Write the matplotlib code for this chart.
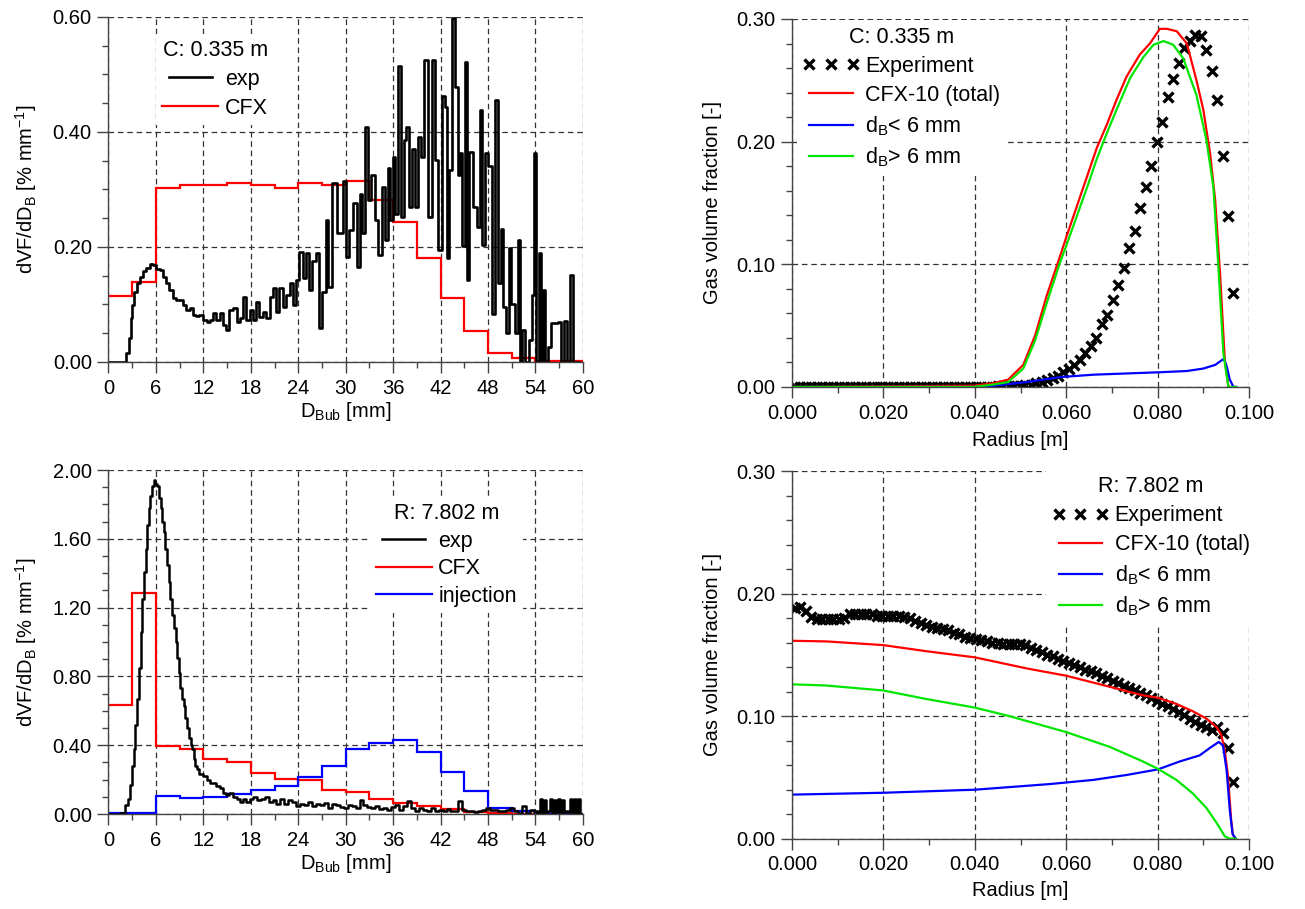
import numpy as np
import matplotlib
matplotlib.use('Agg')
import matplotlib.pyplot as plt
from matplotlib.ticker import MultipleLocator, FormatStrFormatter

plt.rcParams['font.family'] = ['Liberation Sans', 'DejaVu Sans']
plt.rcParams['mathtext.default'] = 'regular'
plt.rcParams['font.size'] = 14.5

# ---- bubble size distributions (D_Bub in mm, dVF/dD_B in % per mm) ----
cfx_edges = np.arange(0, 61, 3)

c_exp_d = [0, 0.5, 1.0, 1.5, 2.0, 2.5, 2.7, 2.9, 3.1, 3.4, 3.7, 4.2, 4.6, 5.0, 5.4, 5.8,
           6.25, 6.7, 7.1, 7.5, 7.9, 8.4, 8.8, 9.2, 9.6, 10.0, 10.5, 10.9, 11.3, 11.7,
           12.2, 12.6, 13.0, 13.4, 13.8, 14.3, 14.7, 15.1, 15.5, 16.0, 16.4, 16.8, 17.2,
           17.7, 18.1, 18.5, 18.9, 19.3, 19.7, 20.2, 20.6, 21.0, 21.4, 21.8, 22.3, 22.7,
           23.1, 23.5, 23.9, 24.4, 24.8, 25.2, 25.6, 26.0, 26.5, 26.8, 27.3, 27.6, 28.0,
           28.6, 29.3, 29.9, 30.3, 30.6, 31.2, 31.6, 31.9, 32.2, 32.6, 33.0, 33.4, 33.9,
           34.3, 34.8, 35.2, 35.4, 35.8, 36.1, 36.4, 36.9, 37.2, 37.5, 37.8, 38.1, 38.6,
           39.0, 39.3, 39.7, 40.2, 40.7, 41.1, 41.5, 41.9, 42.4, 42.6, 42.9, 43.2, 43.7,
           44.0, 44.3, 44.6, 44.9, 45.2, 45.5, 45.8, 46.4, 46.8, 47.1, 47.4, 47.8, 48.3,
           48.6, 49.1, 49.5, 49.7, 50.0, 50.5, 50.7, 51.2, 51.7, 51.9, 52.2, 52.5, 52.9,
           53.4, 53.6, 53.9, 54.3, 54.5, 54.8, 55.1, 55.4, 55.7, 56.1, 56.5, 57.1, 57.3,
           57.8, 58.2, 58.6, 58.9, 59.5]
c_exp = [0, 0, 0, 0, 0, 0.015, 0.041, 0.076, 0.099, 0.122, 0.137, 0.148, 0.159, 0.163,
         0.170, 0.169, 0.161, 0.160, 0.148, 0.137, 0.125, 0.111, 0.108, 0.108, 0.099, 0.090,
         0.093, 0.082, 0.080, 0.082, 0.073, 0.070, 0.073, 0.086, 0.073, 0.085, 0.064, 0.056,
         0.090, 0.093, 0.070, 0.076, 0.113, 0.073, 0.090, 0.073, 0.105, 0.078, 0.087, 0.076,
         0.113, 0.128, 0.087, 0.128, 0.096, 0.116, 0.137, 0.099, 0.143, 0.192, 0.146, 0.189,
         0.125, 0.175, 0.189, 0.059, 0.122, 0.247, 0.131, 0.312, 0.224, 0.314, 0.183, 0.230,
         0.276, 0.166, 0.293, 0.224, 0.409, 0.281, 0.325, 0.247, 0.186, 0.305, 0.212, 0.337,
         0.247, 0.357, 0.258, 0.514, 0.253, 0.386, 0.409, 0.270, 0.371, 0.270, 0.392, 0.357,
         0.525, 0.253, 0.525, 0.351, 0.195, 0.462, 0.444, 0.180, 0.334, 0.598, 0.479, 0.325,
         0.363, 0.201, 0.522, 0.143, 0.366, 0.270, 0.235, 0.438, 0.204, 0.363, 0.340, 0.084,
         0.456, 0.137, 0.232, 0.096, 0.050, 0.198, 0.101, 0.050, 0.212, 0, 0.056, 0, 0.038,
         0.116, 0.363, 0, 0.189, 0, 0.125, 0, 0.026, 0.067, 0.067, 0.070, 0, 0.072, 0,
         0.151, 0, 0]
c_cfx = [0.114, 0.139, 0.302, 0.307, 0.307, 0.311, 0.307, 0.302, 0.311, 0.307,
         0.315, 0.281, 0.244, 0.180, 0.112, 0.054, 0.016, 0.007, 0.001, 0.001]

r_exp_head_d = [0, 1.0, 1.8, 2.3, 2.6, 2.8, 3.1, 3.3, 3.5, 3.7, 4.0, 4.2, 4.4, 4.6, 4.8,
                5.0, 5.2, 5.4, 5.6, 5.8, 6.0, 6.25, 6.5, 6.7, 6.9, 7.1, 7.3, 7.5, 7.7, 7.9,
                8.2, 8.4, 8.6, 8.8, 9.0, 9.2, 9.4, 9.6, 9.8, 10.0, 10.3, 10.5, 10.7, 10.9,
                11.1, 11.3, 11.7, 12.2, 12.6, 13.0, 13.4, 13.8, 14.3, 14.7, 15.1, 15.5,
                16.0, 16.4, 16.8, 17.2, 17.7]
r_exp_head = [0, 0, 0.006, 0.05, 0.09, 0.17, 0.28, 0.38, 0.52, 0.67, 0.85, 1.06, 1.25,
              1.41, 1.54, 1.68, 1.78, 1.85, 1.91, 1.94, 1.92, 1.91, 1.84, 1.78, 1.70, 1.64,
              1.54, 1.45, 1.35, 1.25, 1.16, 1.08, 1.00, 0.91, 0.82, 0.73, 0.67, 0.63, 0.56,
              0.50, 0.44, 0.40, 0.38, 0.32, 0.28, 0.26, 0.23, 0.22, 0.20, 0.18, 0.18, 0.16,
              0.15, 0.12, 0.11, 0.12, 0.10, 0.09, 0.07, 0.09, 0.07]
# tail of the measured distribution, 0.5 mm bins from 18 mm
r_exp_tail = [0.09, 0.10, 0.08, 0.09, 0.10, 0.07, 0.08, 0.06, 0.09, 0.06, 0.08, 0.07,
              0.045, 0.06, 0.05, 0.07, 0.045, 0.06, 0.05, 0.065, 0.035, 0.06, 0.05, 0.04,
              0.035, 0.05, 0.045, 0.035, 0.08, 0.05, 0.04, 0.035, 0.045, 0.03, 0.035, 0.025,
              0.04, 0.05, 0.025, 0.045, 0.075, 0.035, 0.02, 0.035, 0.025, 0.015, 0.035, 0.02,
              0.025, 0.015, 0.03, 0.02, 0.015, 0.075, 0.025, 0.015, 0.02, 0.01, 0.015, 0.025,
              0.035, 0.025, 0.025, 0.015, 0.015, 0.025, 0.035, 0.015, 0.005, 0.045, 0.005,
              0.025]
# last 6 mm, 0.25 mm bins
r_exp_end = [0.01, 0.02, 0.0, 0.085, 0.0, 0.08, 0.01, 0.02, 0.085, 0.0, 0.08, 0.01,
             0.085, 0.0, 0.08, 0.01, 0.02, 0.01, 0.09, 0.0, 0.09, 0.0, 0.09, 0.0]
r_cfx = [0.634, 1.287, 0.395, 0.376, 0.320, 0.300, 0.236, 0.202, 0.195, 0.140,
         0.130, 0.085, 0.066, 0.047, 0.027, 0.014, 0.008, 0.002, 0.0, 0.0]
r_inj = [0.003, 0.003, 0.107, 0.091, 0.101, 0.114, 0.137, 0.163, 0.217, 0.281,
         0.378, 0.411, 0.430, 0.358, 0.247, 0.134, 0.037, 0.019, 0.0, 0.0]

# ---- radial gas volume fraction profiles ----
r_meas = (np.arange(81) + 0.5) * 0.0012   # sensor radial positions [m]

c_gvf_exp = [0, 0, 0, 0, 0, 0, 0, 0, 0, 0,
             0, 0, 0, 0, 0, 0, 0, 0, 0, 0,
             0, 0, 0, 0, 0, 0, 0, 0, 0, 0,
             0, 0, 0, 0, 0, 0, 0, 0.001, 0.001, 0.001,
             0.001, 0.001, 0.002, 0.002, 0.003, 0.004, 0.006, 0.007, 0.009, 0.012,
             0.015, 0.018, 0.022, 0.028, 0.033, 0.040, 0.051, 0.059, 0.071, 0.083,
             0.097, 0.113, 0.127, 0.146, 0.163, 0.180, 0.200, 0.216, 0.236, 0.251,
             0.264, 0.276, 0.282, 0.287, 0.286, 0.275, 0.258, 0.234, 0.188, 0.139,
             0.077]
c_tot_r = [0, 0.0397, 0.0441, 0.0473, 0.0506, 0.0532, 0.0557, 0.0586, 0.0601, 0.0623,
           0.0645, 0.0667, 0.0689, 0.0710, 0.0732, 0.0761, 0.0783, 0.0805, 0.0820, 0.0842,
           0.0864, 0.0885, 0.0900, 0.0915, 0.0926, 0.0937, 0.0947, 0.0955, 0.0969]
c_tot = [0, 0.001, 0.003, 0.006, 0.018, 0.042, 0.074, 0.106, 0.123, 0.147, 0.171, 0.195,
         0.214, 0.234, 0.253, 0.271, 0.280, 0.292, 0.292, 0.290, 0.280, 0.250, 0.226,
         0.190, 0.152, 0.090, 0.022, 0.0, 0.0]
c_small_r = [0, 0.0397, 0.0441, 0.0514, 0.0586, 0.0659, 0.0732, 0.0805, 0.0864, 0.0900,
             0.0926, 0.0945, 0.0951, 0.0958, 0.0966, 0.0972]
c_small = [0, 0, 0.001, 0.004, 0.008, 0.010, 0.011, 0.012, 0.013, 0.015, 0.018, 0.023,
           0.017, 0.006, 0, 0]
c_large_r = [0, 0.0397, 0.0441, 0.0473, 0.0506, 0.0532, 0.0557, 0.0586, 0.0601, 0.0623,
             0.0645, 0.0667, 0.0689, 0.0710, 0.0740, 0.0769, 0.0791, 0.0813, 0.0834,
             0.0856, 0.0885, 0.0907, 0.0922, 0.0933, 0.0944, 0.0955, 0.0972]
c_large = [0, 0, 0.002, 0.004, 0.015, 0.038, 0.068, 0.101, 0.116, 0.139, 0.162, 0.186,
           0.207, 0.226, 0.252, 0.269, 0.279, 0.282, 0.279, 0.268, 0.238, 0.201, 0.163,
           0.098, 0.027, 0, 0]

r_gvf_exp = [0.188, 0.189, 0.186, 0.181, 0.179, 0.179, 0.179, 0.179, 0.179, 0.180,
             0.183, 0.183, 0.183, 0.183, 0.183, 0.182, 0.182, 0.182, 0.182, 0.182,
             0.181, 0.180, 0.178, 0.176, 0.174, 0.173, 0.172, 0.171, 0.170, 0.168,
             0.167, 0.165, 0.164, 0.163, 0.162, 0.161, 0.160, 0.160, 0.159, 0.159,
             0.159, 0.159, 0.158, 0.156, 0.154, 0.152, 0.150, 0.149, 0.147, 0.145,
             0.143, 0.142, 0.140, 0.138, 0.137, 0.135, 0.133, 0.131, 0.129, 0.127,
             0.125, 0.123, 0.121, 0.119, 0.117, 0.115, 0.112, 0.110, 0.108, 0.106,
             0.103, 0.101, 0.098, 0.095, 0.093, 0.091, 0.089, 0.091, 0.086, 0.074,
             0.046]
r_tot_r = [0, 0.0075, 0.0199, 0.0294, 0.0400, 0.0513, 0.0600, 0.0695, 0.0768, 0.0801,
           0.0841, 0.0877, 0.0907, 0.0929, 0.0939, 0.0947, 0.0954, 0.0961, 0.0965, 0.0971]
r_tot = [0.1615, 0.161, 0.158, 0.153, 0.148, 0.139, 0.133, 0.124, 0.117, 0.115,
         0.110, 0.104, 0.098, 0.091, 0.085, 0.072, 0.051, 0.015, 0.003, 0]
r_small_r = [0, 0.0199, 0.0400, 0.0564, 0.0659, 0.0732, 0.0801, 0.0848, 0.0892, 0.0914,
             0.0934, 0.0943, 0.0951, 0.0958, 0.0964, 0.0971]
r_small = [0.036, 0.0375, 0.040, 0.0446, 0.048, 0.052, 0.0566, 0.063, 0.068, 0.074,
           0.079, 0.076, 0.056, 0.023, 0.004, 0]
r_large_r = [0, 0.0075, 0.0199, 0.0294, 0.0400, 0.0476, 0.0600, 0.0695, 0.0768, 0.0801,
             0.0841, 0.0877, 0.0907, 0.0929, 0.0947, 0.0958, 0.0971]
r_large = [0.126, 0.125, 0.121, 0.114, 0.107, 0.100, 0.087, 0.075, 0.063, 0.057, 0.048,
           0.037, 0.025, 0.013, 0.002, 0, 0]

RED = '#ff0000'
BLUE = '#0000ff'
GREEN = '#00e600'
AXC = '#444444'


def style_axes(ax, xmaj, xmin, ymaj, ymin, xfmt, yfmt):
    for s in ('top', 'right'):
        ax.spines[s].set_visible(False)
    for s in ('left', 'bottom'):
        ax.spines[s].set_color(AXC)
        ax.spines[s].set_linewidth(1.0)
    ax.xaxis.set_major_locator(MultipleLocator(xmaj))
    ax.xaxis.set_minor_locator(MultipleLocator(xmin))
    ax.yaxis.set_major_locator(MultipleLocator(ymaj))
    ax.yaxis.set_minor_locator(MultipleLocator(ymin))
    ax.xaxis.set_major_formatter(FormatStrFormatter(xfmt))
    ax.yaxis.set_major_formatter(FormatStrFormatter(yfmt))
    ax.tick_params(which='major', direction='out', length=8, width=1, color=AXC,
                   labelsize=14.5, pad=4)
    ax.tick_params(which='minor', direction='out', length=4.5, width=1, color=AXC)
    ax.grid(True, which='major', linestyle=(0, (4.5, 3)), color='#333333', linewidth=0.9)
    ax.set_axisbelow(True)


def add_legend(ax, title, anchor, spacing):
    leg = ax.legend(loc='upper left', bbox_to_anchor=anchor, title=title,
                    frameon=True, facecolor='white', edgecolor='none', framealpha=1,
                    fancybox=False, borderpad=0.3, borderaxespad=0, handlelength=2.6,
                    handletextpad=0.3, labelspacing=spacing, numpoints=3,
                    prop={'size': 15.5}, title_fontproperties={'size': 15.5})
    return leg


fig = plt.figure(figsize=(13.05, 9.09), dpi=100)
ax_c = fig.add_axes([0.0831, 0.6018, 0.3636, 0.3795])
ax_cg = fig.add_axes([0.6069, 0.5743, 0.3502, 0.4048])
ax_r = fig.add_axes([0.0831, 0.1045, 0.3636, 0.3784])
ax_rg = fig.add_axes([0.6069, 0.0773, 0.3502, 0.4045])

# top left: C 0.335 m bubble size distribution
ax_c.step(c_exp_d, c_exp, where='mid', color='black', lw=1.9, label='exp')
ax_c.stairs(c_cfx, cfx_edges, baseline=None, color=RED, lw=1.6, label='CFX')
ax_c.set_xlim(0, 60)
ax_c.set_ylim(0, 0.6)
style_axes(ax_c, 6, 3, 0.2, 0.05, '%d', '%.2f')
ax_c.set_xlabel('D$_{Bub}$ [mm]', labelpad=2)
ax_c.set_ylabel('dVF/dD$_B$ [% mm$^{-1}$]', labelpad=10)
add_legend(ax_c, 'C: 0.335 m', (0.10, 0.952), 0.36)

# bottom left: R 7.802 m bubble size distribution
r_exp_d = np.concatenate([r_exp_head_d, np.arange(18.0, 54.0, 0.5), np.arange(54.0, 60.0, 0.25)])
r_exp = np.concatenate([r_exp_head, r_exp_tail, r_exp_end])
ax_r.step(r_exp_d, r_exp, where='mid', color='black', lw=1.8, label='exp')
ax_r.stairs(r_cfx, cfx_edges, baseline=None, color=RED, lw=1.6, label='CFX')
ax_r.stairs(r_inj, cfx_edges, baseline=None, color=BLUE, lw=1.6, label='injection')
ax_r.set_xlim(0, 60)
ax_r.set_ylim(0, 2.0)
style_axes(ax_r, 6, 3, 0.4, 0.1, '%d', '%.2f')
ax_r.set_xlabel('D$_{Bub}$ [mm]', labelpad=2)
ax_r.set_ylabel('dVF/dD$_B$ [% mm$^{-1}$]', labelpad=10)
add_legend(ax_r, 'R: 7.802 m', (0.55, 0.923), 0.31)

# top right: C 0.335 m radial profile
ax_cg.plot(r_meas, c_gvf_exp, 'x', color='black', ms=7, mew=2.4, label='Experiment')
ax_cg.plot(c_tot_r, c_tot, color=RED, lw=1.6, label='CFX-10 (total)')
ax_cg.plot(c_small_r, c_small, color=BLUE, lw=1.6, label='d$_B$< 6 mm')
ax_cg.plot(c_large_r, c_large, color=GREEN, lw=1.6, label='d$_B$> 6 mm')
ax_cg.set_xlim(0, 0.1)
ax_cg.set_ylim(0, 0.3)
style_axes(ax_cg, 0.02, 0.01, 0.1, 0.02, '%.3f', '%.2f')
ax_cg.set_xlabel('Radius [m]', labelpad=6)
ax_cg.set_ylabel('Gas volume fraction [-]', labelpad=10)
add_legend(ax_cg, 'C: 0.335 m', (0.01, 0.997), 0.38)

# bottom right: R 7.802 m radial profile
ax_rg.plot(r_meas, r_gvf_exp, 'x', color='black', ms=7, mew=2.4, label='Experiment')
ax_rg.plot(r_tot_r, r_tot, color=RED, lw=1.6, label='CFX-10 (total)')
ax_rg.plot(r_small_r, r_small, color=BLUE, lw=1.6, label='d$_B$< 6 mm')
ax_rg.plot(r_large_r, r_large, color=GREEN, lw=1.6, label='d$_B$> 6 mm')
ax_rg.set_xlim(0, 0.1)
ax_rg.set_ylim(0, 0.3)
style_axes(ax_rg, 0.02, 0.01, 0.1, 0.02, '%.3f', '%.2f')
ax_rg.set_xlabel('Radius [m]', labelpad=5)
ax_rg.set_ylabel('Gas volume fraction [-]', labelpad=10)
add_legend(ax_rg, 'R: 7.802 m', (0.555, 1.003), 0.37)

fig.savefig('out.png', dpi=100)
